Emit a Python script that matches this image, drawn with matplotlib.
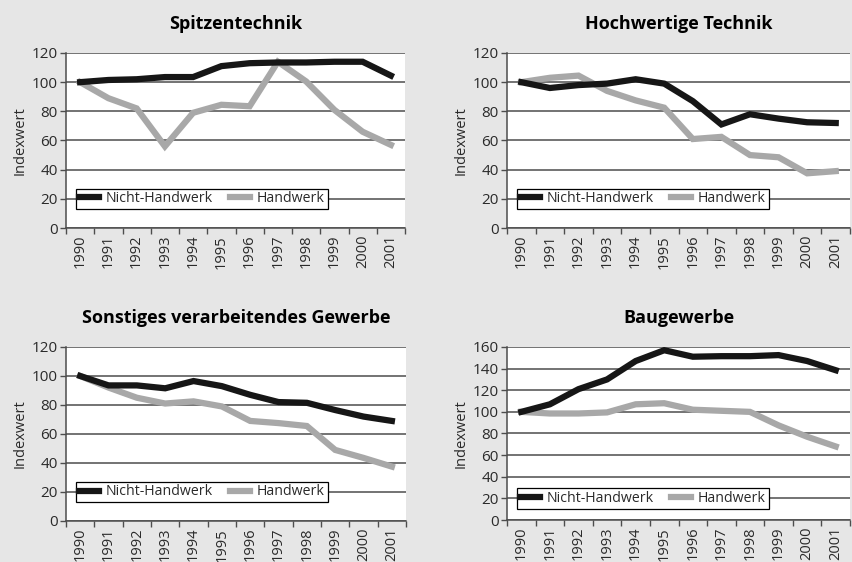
import matplotlib
matplotlib.use('Agg')
import matplotlib.pyplot as plt
import numpy as np

plt.rcParams['font.family'] = ['Open Sans', 'DejaVu Sans']

# --- Daten ---
years = ['1990', '1991', '1992', '1993', '1994', '1995',
         '1996', '1997', '1998', '1999', '2000', '2001']
series_names = ['Nicht-Handwerk', 'Handwerk']
titles = ['Spitzentechnik', 'Hochwertige Technik',
          'Sonstiges verarbeitendes Gewerbe', 'Baugewerbe']

spitze_nicht = [100, 101.5, 102, 103.5, 103.5, 111, 113, 113.5, 113.5, 114, 114, 104.5]
spitze_hand = [100, 89, 82, 56, 79, 84.5, 83.5, 114, 100.5, 81, 66, 57]

hoch_nicht = [100, 96, 98, 99, 102, 99, 87, 71, 78, 75, 72.5, 72]
hoch_hand = [100, 103, 104.5, 94, 87.5, 82.5, 61, 62.5, 50, 48.5, 37.5, 39]

sonst_nicht = [100, 93.5, 93.5, 91.5, 96.5, 93, 87, 82, 81.5, 76.5, 72, 69]
sonst_hand = [100, 92, 85, 81, 82.5, 79, 69, 67.5, 65.5, 49, 43.5, 37.5]

bau_nicht = [100, 107, 121, 130, 147, 157, 151, 151.5, 151.5, 152.5, 147, 138.5]
bau_hand = [100, 98.5, 98.5, 99.5, 107, 108, 102, 101, 100, 87.5, 77, 68]

panels = [
    (titles[0], spitze_nicht, spitze_hand, 120),
    (titles[1], hoch_nicht, hoch_hand, 120),
    (titles[2], sonst_nicht, sonst_hand, 120),
    (titles[3], bau_nicht, bau_hand, 160),
]

# Achsenpositionen (Figure-Koordinaten)
positions = [
    [0.0774, 0.5943, 0.3974, 0.3114],
    [0.5944, 0.5943, 0.4021, 0.3114],
    [0.0774, 0.0730, 0.3986, 0.3096],
    [0.5944, 0.0747, 0.4021, 0.3079],
]

bg = '#e6e6e6'
black = '#161616'
grey = '#a8a8a8'
grid_col = '#4d4d4d'
text_col = '#2a2a2a'

fig = plt.figure(figsize=(8.53, 5.62), dpi=100, facecolor=bg)

x = np.arange(len(years))

for (title, nicht, hand, ymax), pos in zip(panels, positions):
    ax = fig.add_axes(pos)
    ax.set_facecolor('white')

    ax.plot(x, hand, color=grey, lw=4.5, solid_joinstyle='miter', zorder=3,
            label=series_names[1])
    ax.plot(x, nicht, color=black, lw=4.5, solid_joinstyle='miter', zorder=4,
            label=series_names[0])

    ax.set_xlim(-0.5, len(years) - 0.5)
    ax.set_ylim(0, ymax)
    ax.set_yticks(np.arange(0, ymax + 1, 20))
    ax.yaxis.grid(True, color=grid_col, lw=1.1)
    ax.set_axisbelow(True)

    ax.set_xticks(x)
    ax.set_xticklabels(years, rotation=90, fontsize=10.5, color=text_col)
    ax.set_xticks(np.arange(-0.5, len(years)), minor=True)
    ax.tick_params(axis='x', which='major', length=0, pad=5)
    ax.tick_params(axis='x', which='minor', length=4, width=1, color=grid_col,
                   direction='out')
    ax.tick_params(axis='y', length=4, width=1, color=grid_col, pad=2,
                   labelsize=11, labelcolor=text_col)

    for side in ['top', 'right']:
        ax.spines[side].set_visible(False)
    for side in ['left', 'bottom']:
        ax.spines[side].set_color(grid_col)
        ax.spines[side].set_linewidth(1.1)

    ax.set_ylabel('Indexwert', fontsize=10.5, color=text_col, labelpad=3)
    ax.set_title(title, fontsize=13, fontweight='bold', color='black', pad=17)

    handles, labels = ax.get_legend_handles_labels()
    leg = ax.legend(handles[::-1], labels[::-1], ncol=2,
                    loc='center left', bbox_to_anchor=(0.03, 20),
                    bbox_transform=ax.get_yaxis_transform(),
                    borderaxespad=0, fontsize=10.2, frameon=True,
                    fancybox=False, framealpha=1, edgecolor='black',
                    handlelength=1.4, handletextpad=0.5, columnspacing=1.2,
                    borderpad=0.2)
    leg.get_frame().set_linewidth(0.9)
    leg.set_zorder(5)
    for t in leg.get_texts():
        t.set_color(text_col)

fig.savefig('out.png', dpi=100, facecolor=bg)
